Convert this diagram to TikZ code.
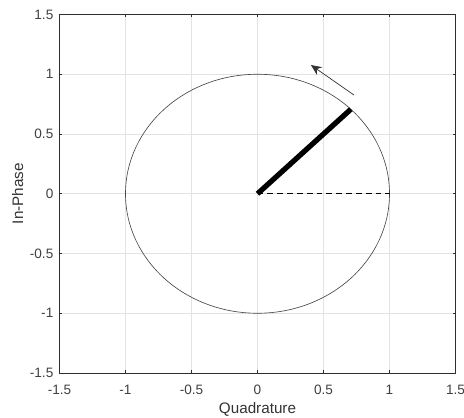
\documentclass[tikz,border=0pt]{standalone}
\usepackage{fontspec}
\setmainfont{Liberation Sans}
\usetikzlibrary{arrows.meta}

\begin{document}
\begin{tikzpicture}[
  x=3.96cm, y=3.585cm,
  gridline/.style={black!11, line width=0.5pt},
  axisline/.style={black!82, line width=0.55pt},
  ticklabel/.style={inner sep=0pt, text=black!75, font=\fontsize{11.6}{13}\selectfont},
  axislabel/.style={inner sep=0pt, text=black!80, font=\fontsize{13}{15}\selectfont},
  phasor/.style={line width=4.5pt},
  refline/.style={line width=0.6pt, dash pattern=on 5pt off 3.4pt},
  turn/.style={black!80, line width=0.6pt, -{Stealth[length=9pt, width=8pt, inset=3pt]}},
]
  \useasboundingbox (-1.9508,-1.8766) rectangle (1.5644,1.6213);

  \coordinate (O) at (0,0);
  \coordinate (P) at (0.7071,0.7071);
  \coordinate (R) at (1,0);
  \coordinate (T) at (0.731,0.826);
  \coordinate (H) at (0.405,1.077);

  % grid
  \foreach \v in {-1,-0.5,...,1} {
    \draw[gridline] (\v,-1.5) -- (\v,1.5);
    \draw[gridline] (-1.5,\v) -- (1.5,\v);
  }

  % ticks on all four sides
  \foreach \v in {-1.5,-1,...,1.5} {
    \draw[axisline] (\v,-1.5) -- ++(0,0.025);
    \draw[axisline] (\v,1.5) -- ++(0,-0.025);
    \draw[axisline] (-1.5,\v) -- ++(0.0227,0);
    \draw[axisline] (1.5,\v) -- ++(-0.0227,0);
  }
  \draw[axisline] (-1.5,-1.5) rectangle (1.5,1.5);

  % tick labels
  \foreach \v/\t [count=\i] in {-1.5/-1.5,-1/-1,-0.5/-0.5,0/0,0.5/0.5,1/1,1.5/1.5} {
    \node[ticklabel] (xt\i) at (\v,-1.638) {\t};
    \node[ticklabel, anchor=east] (yt\i) at (-1.545,\v) {\t};
  }

  \node[axislabel, anchor=base] (xlabel) at (0,-1.843) {Quadrature};
  \node[axislabel, anchor=base, rotate=90] (ylabel) at (-1.7765,0) {In-Phase};

  % unit circle
  \draw[black!72, line width=0.55pt] (O) circle [x radius=1, y radius=1];

  % reference axis and rotating phasor
  \draw[refline] (O) -- (R);
  \draw[phasor] (O) -- (P);

  % direction of rotation
  \draw[turn] (T) -- (H);
\end{tikzpicture}
\end{document}
